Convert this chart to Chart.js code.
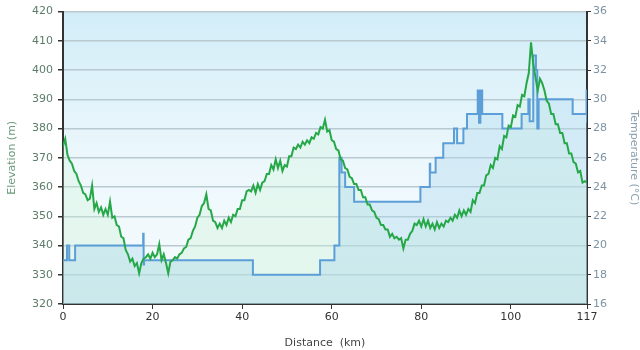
<!DOCTYPE html>
<html>
<head>
<meta charset="utf-8">
<script src="https://cdn.jsdelivr.net/npm/chart.js@4.4.0/dist/chart.umd.min.js"></script>
<style>
  html, body { margin: 0; padding: 0; background: #fff; }
  #wrap { width: 640px; height: 350px; }
</style>
</head>
<body>
<div id="wrap"><canvas id="myChart" width="640" height="350"></canvas></div>
<script>
// distance samples (km) for the elevation trace
const elevKm = [
  0, 0.5, 1, 1.5, 2, 2.5, 3, 3.5, 4, 4.5,
  5, 5.5, 6, 6.5, 7, 7.5, 8, 8.5, 9, 9.5,
  10, 10.5, 11, 11.5, 12, 12.5, 13, 13.5, 14, 14.5,
  15, 15.5, 16, 16.5, 17, 17.5, 18, 18.5, 19, 19.5,
  20, 20.5, 21, 21.5, 22, 22.5, 23, 23.5, 24, 24.5,
  25, 25.5, 26, 26.5, 27, 27.5, 28, 28.5, 29, 29.5,
  30, 30.5, 31, 31.5, 32, 32.5, 33, 33.5, 34, 34.5,
  35, 35.5, 36, 36.5, 37, 37.5, 38, 38.5, 39, 39.5,
  40, 40.5, 41, 41.5, 42, 42.5, 43, 43.5, 44, 44.5,
  45, 45.5, 46, 46.5, 47, 47.5, 48, 48.5, 49, 49.5,
  50, 50.5, 51, 51.5, 52, 52.5, 53, 53.5, 54, 54.5,
  55, 55.5, 56, 56.5, 57, 57.5, 58, 58.5, 59, 59.5,
  60, 60.5, 61, 61.5, 62, 62.5, 63, 63.5, 64, 64.5,
  65, 65.5, 66, 66.5, 67, 67.5, 68, 68.5, 69, 69.5,
  70, 70.5, 71, 71.5, 72, 72.5, 73, 73.5, 74, 74.5,
  75, 75.5, 76, 76.5, 77, 77.5, 78, 78.5, 79, 79.5,
  80, 80.5, 81, 81.5, 82, 82.5, 83, 83.5, 84, 84.5,
  85, 85.5, 86, 86.5, 87, 87.5, 88, 88.5, 89, 89.5,
  90, 90.5, 91, 91.5, 92, 92.5, 93, 93.5, 94, 94.5,
  95, 95.5, 96, 96.5, 97, 97.5, 98, 98.5, 99, 99.5,
  100, 100.5, 101, 101.5, 102, 102.5, 103, 103.5, 104, 104.5,
  105, 105.5, 106, 106.5, 107, 107.5, 108, 108.5, 109, 109.5,
  110, 110.5, 111, 111.5, 112, 112.5, 113, 113.5, 114, 114.5,
  115, 115.5, 116, 116.5, 117
];
// elevation (m)
const elevM = [
  374, 376.5, 371, 369, 368, 365.5, 364.5, 362, 360.5, 358,
  357.5, 355.5, 356, 360.5, 352.5, 354.5, 351.5, 353, 350.5, 352.5,
  350.5, 355, 349.5, 350, 347, 346.5, 343, 342.5, 338.5, 337,
  334.5, 335.5, 333, 334, 330.5, 334, 335.5, 336, 337, 335.5,
  337.5, 336, 337, 340.5, 335, 337, 334, 330.5, 334.5, 335,
  336, 335.5, 337, 337.5, 339, 339.5, 342, 342.5, 345, 346.5,
  349.5, 350.5, 353.5, 354.5, 357.5, 352.5, 352, 348.5, 348, 346,
  347.5, 346, 348.5, 347, 349.5, 348, 350.5, 350, 352.5, 352.5,
  355.5, 355.5, 358.5, 359, 358.5, 360.5, 358, 361, 359, 361.5,
  362, 364.5, 364.5, 367.5, 366, 369.5, 366.5, 369, 365.5, 367.5,
  367, 370.5, 370.5, 373.5, 373, 374.5, 373.5, 375.5, 374.5, 376,
  375, 377, 376.5, 378.5, 378, 380.5, 380, 383, 379, 379.5,
  376, 375.5, 373, 372.5, 369.5, 369, 366.5, 366, 363.5, 363,
  361, 361, 359, 359, 356.5, 356.5, 354, 354, 352, 351.5,
  349.5, 349, 347, 347, 345.5, 345.5, 343, 344, 342.5, 343,
  342, 342.5, 339, 342, 342, 344, 345, 347.5, 347, 348.5,
  346.5, 349, 346.5, 348.5, 346, 347.5, 345.5, 348, 346, 347.5,
  346.5, 348.5, 348, 349.5, 348.5, 350.5, 349.5, 352, 350, 352,
  350.5, 352.5, 351.5, 355.5, 354.5, 358, 358, 360.5, 360.5, 364,
  364.5, 367.5, 366.5, 370, 369.5, 374, 373, 377.5, 377, 381,
  380.5, 384.5, 384, 388, 387.5, 391.5, 391, 395.5, 399, 409.5,
  402, 397.5, 393, 397, 395.5, 393, 389.5, 388.5, 385, 385,
  381.5, 381.5, 378.5, 378.5, 375, 375, 371.5, 371.5, 368.5, 368,
  365, 365.5, 361.5, 362, 361.5
];
// temperature steps: distance where each level starts (km) and level (°C)
const tempKm = [0, 0.9, 1.4, 2.7, 17.9, 18.0, 18.1, 42.4, 57.4, 60.6, 61.7, 62.2, 63.0, 65.0,
  79.8, 81.9, 82.0, 83.2, 84.9, 87.3, 88.0, 89.4, 90.2, 92.6, 92.9, 93.2, 93.6, 98.1, 102.4,
  103.9, 104.2, 105.0, 105.6, 105.9, 106.2, 113.8, 116.9, 117];
const tempC = [19, 20, 19, 20, 20.8, 18.7, 19, 18, 19, 20, 26, 25, 24, 23,
  24, 25.6, 25, 26, 27, 28, 27, 28, 29, 30.6, 28.4, 30.6, 29, 28, 29,
  30, 28.5, 33, 32, 28, 30, 29, 30.6, 28.4];

const xTickValues = [0, 20, 40, 60, 80, 100, 117];

const elevPoints = elevKm.map((d, i) => ({ x: d, y: elevM[i] }));
const tempPoints = tempKm.map((d, i) => ({ x: d, y: tempC[i] }));

const font = { family: 'DejaVu Sans', size: 11 };

// light blue backdrop of the plot area
const plotBg = {
  id: 'plotBg',
  beforeDraw(chart) {
    const a = chart.chartArea;
    const c = chart.ctx;
    const g = c.createLinearGradient(0, a.top, 0, a.bottom);
    g.addColorStop(0, '#d2edf8');
    g.addColorStop(0.55, '#eef8fc');
    g.addColorStop(1, '#f6fbfd');
    c.save();
    c.fillStyle = g;
    c.fillRect(a.left, a.top, a.right - a.left, a.bottom - a.top);
    c.restore();
  }
};

function greenFill(context) {
  const a = context.chart.chartArea;
  if (!a) return 'rgba(200,240,210,0.3)';
  const g = context.chart.ctx.createLinearGradient(0, a.top, 0, a.bottom);
  g.addColorStop(0, 'rgba(205,245,215,0.15)');
  g.addColorStop(1, 'rgba(200,240,210,0.4)');
  return g;
}
function blueFill(context) {
  const a = context.chart.chartArea;
  if (!a) return 'rgba(165,212,236,0.35)';
  const g = context.chart.ctx.createLinearGradient(0, a.top, 0, a.bottom);
  g.addColorStop(0, 'rgba(175,218,242,0.32)');
  g.addColorStop(1, 'rgba(165,212,234,0.4)');
  return g;
}

const ctx = document.getElementById('myChart').getContext('2d');
const myChart = new Chart(ctx, {
  type: 'line',
  data: {
    datasets: [
      { // elevation line, on top
        label: 'Elevation',
        data: elevPoints,
        yAxisID: 'y',
        borderColor: 'rgb(38,168,72)',
        borderWidth: 2,
        pointRadius: 0,
        fill: false,
        order: 0
      },
      { // temperature steps
        label: 'Temperature',
        data: tempPoints,
        yAxisID: 'y2',
        stepped: true,
        borderColor: 'rgb(92,158,215)',
        borderWidth: 2,
        pointRadius: 0,
        fill: 'start',
        backgroundColor: blueFill,
        order: 1
      },
      { // elevation area, underneath
        label: 'Elevation area',
        data: elevPoints,
        yAxisID: 'y',
        borderWidth: 0,
        borderColor: 'rgba(0,0,0,0)',
        pointRadius: 0,
        fill: 'start',
        backgroundColor: greenFill,
        order: 2
      }
    ]
  },
  options: {
    responsive: false,
    animation: false,
    layout: { padding: { top: 9, left: 0, right: 0, bottom: 0 } },
    plugins: {
      legend: { display: false },
      tooltip: { enabled: false }
    },
    scales: {
      x: {
        type: 'linear',
        min: 0,
        max: 117,
        afterBuildTicks: s => { s.ticks = xTickValues.map(v => ({ value: v })); },
        afterFit: s => { s.height = 46; },
        grid: { drawOnChartArea: false, tickLength: 5, tickColor: '#333' },
        border: { color: '#333', width: 2 },
        ticks: { color: '#333', font: font, padding: 2, autoSkip: false, maxRotation: 0 },
        title: { display: true, text: 'Distance  (km)', color: '#444', font: font, padding: { top: 2, bottom: 0 } }
      },
      y: {
        position: 'left',
        min: 320,
        max: 420,
        afterFit: s => { s.width = 63; },
        grid: { color: '#b9c9d0', lineWidth: 1.5, tickLength: 5, tickColor: '#333' },
        border: { color: '#333', width: 2 },
        ticks: { stepSize: 10, color: '#5d7d6a', font: font, padding: 5 },
        title: { display: true, text: 'Elevation (m)', color: '#6c9a7c', font: font, padding: { top: 6, bottom: 0 } }
      },
      y2: {
        position: 'right',
        min: 16,
        max: 36,
        afterFit: s => { s.width = 53; },
        grid: { drawOnChartArea: false, tickLength: 4, tickColor: '#333' },
        border: { color: '#333', width: 2 },
        ticks: { stepSize: 2, color: '#7d93a3', font: font, padding: 2 },
        title: { display: true, text: 'Temperature (°C)', color: '#8aa0b0', font: font, padding: { top: 0, bottom: 2 } }
      }
    }
  },
  plugins: [plotBg]
});
</script>
</body>
</html>
